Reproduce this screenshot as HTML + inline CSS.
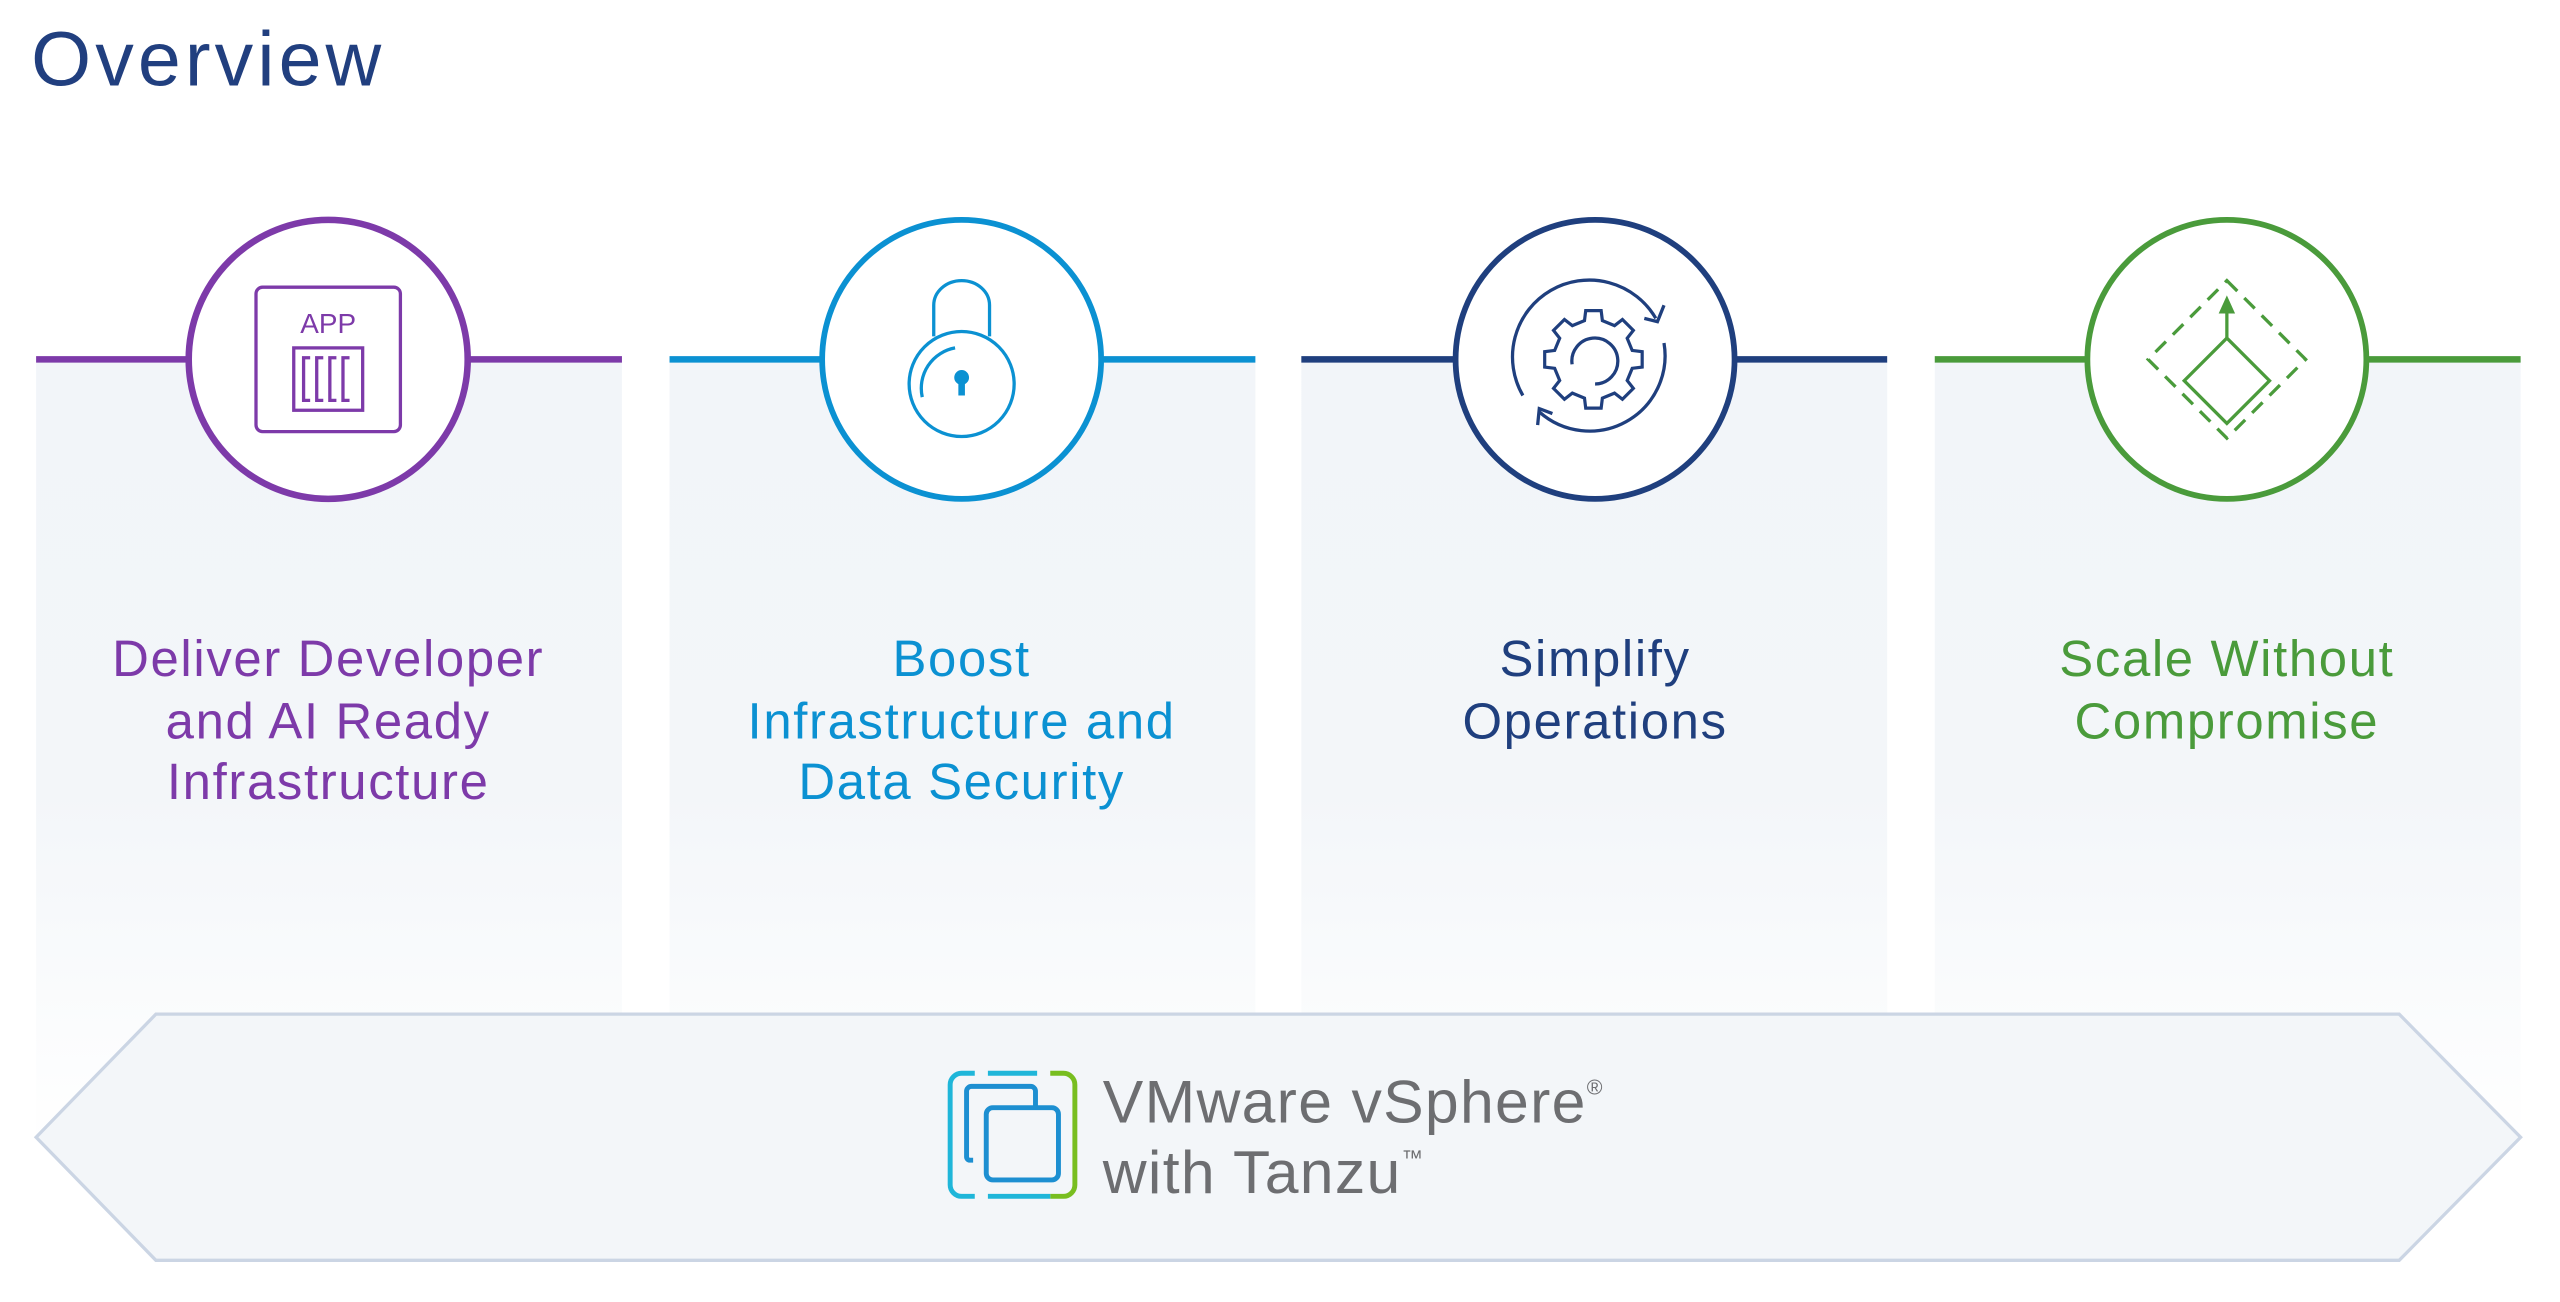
<!DOCTYPE html>
<html><head><meta charset="utf-8"><style>
html,body{margin:0;padding:0;background:#fff;width:2560px;height:1302px;overflow:hidden}
svg{display:block}
text{font-family:"Liberation Sans",sans-serif}
</style></head><body>
<svg width="2560" height="1302" viewBox="0 0 1560 793.4" preserveAspectRatio="none" xmlns="http://www.w3.org/2000/svg">
<defs>
<linearGradient id="pg" x1="0" y1="0" x2="0" y2="1">
<stop offset="0" stop-color="#f2f5f9"/><stop offset="0.55" stop-color="#f3f6f9"/><stop offset="1" stop-color="#ffffff"/>
</linearGradient>
</defs>
<text x="19" y="52" font-size="47" fill="#213f7f" letter-spacing="2.5">Overview</text>

<rect x="22" y="219" width="357" height="480" fill="url(#pg)"/>
<rect x="408" y="219" width="357" height="480" fill="url(#pg)"/>
<rect x="793" y="219" width="357" height="480" fill="url(#pg)"/>
<rect x="1179" y="219" width="357" height="480" fill="url(#pg)"/>

<line x1="22" y1="219" x2="379" y2="219" stroke="#7d3aa9" stroke-width="4"/>
<line x1="408" y1="219" x2="765" y2="219" stroke="#0b91d2" stroke-width="4"/>
<line x1="793" y1="219" x2="1150" y2="219" stroke="#1f3f7e" stroke-width="4"/>
<line x1="1179" y1="219" x2="1536" y2="219" stroke="#4a9b3b" stroke-width="4"/>

<circle cx="200" cy="219" r="85" fill="#fff" stroke="#7d3aa9" stroke-width="4"/>
<circle cx="586" cy="219" r="85" fill="#fff" stroke="#0b91d2" stroke-width="3.5"/>
<circle cx="972" cy="219" r="85" fill="#fff" stroke="#1f3f7e" stroke-width="3.5"/>
<circle cx="1357" cy="219" r="85" fill="#fff" stroke="#4a9b3b" stroke-width="3.5"/>

<g stroke="#7d3aa9" fill="none" stroke-width="2">
<rect x="156" y="175" width="88" height="88" rx="4"/>
<rect x="179" y="212" width="42" height="38"/>
<path d="M189 218h-4v26h4 M197 218h-4v26h4 M205 218h-4v26h4 M213 218h-4v26h4"/>
</g>
<text x="200" y="203" font-size="17" fill="#7d3aa9" text-anchor="middle">APP</text>

<g stroke="#0b91d2" fill="none" stroke-width="2">
<path d="M569 205 V186 a17 15 0 0 1 34 0 V205"/>
<circle cx="586" cy="234" r="32"/>
<path d="M562 242 A25 25 0 0 1 582 212"/>
</g>
<circle cx="586" cy="230" r="4.5" fill="#0b91d2"/>
<rect x="584" y="231" width="4" height="10" fill="#0b91d2"/>

<g transform="translate(971,219)" stroke="#1f3f7e" fill="none" stroke-width="2">
<polygon points="24.36,-5.62 30.62,-4.85 30.62,4.85 24.36,5.62 21.2,13.25 25.08,18.22 18.22,25.08 13.25,21.2 5.62,24.36 4.85,30.62 -4.85,30.62 -5.62,24.36 -13.25,21.2 -18.22,25.08 -25.08,18.22 -21.2,13.25 -24.36,5.62 -30.62,4.85 -30.62,-4.85 -24.36,-5.62 -21.2,-13.25 -25.08,-18.22 -18.22,-25.08 -13.25,-21.2 -5.62,-24.36 -4.85,-30.62 4.85,-30.62 5.62,-24.36 13.25,-21.2 18.22,-25.08 25.08,-18.22 21.2,-13.25" transform="scale(0.97)"/>
<path d="M-13 3 A14 14 0 1 1 1 15"/>
<path d="M-43 22 A46 46 0 0 1 38 -25"/>
<path d="M43 -10 A46 46 0 0 1 -33 32"/>
<path d="M43 -33 L39 -23 L31 -25"/>
<path d="M-34 40 L-33 30 L-25 33"/>
</g>

<g stroke="#4a9b3b" fill="none" stroke-width="2">
<polygon points="1357,171 1405,219 1357,267 1309,219" stroke-dasharray="9,6"/>
<polygon points="1357,206 1383,232 1357,258 1331,232"/>
<line x1="1357" y1="206" x2="1357" y2="188"/>
</g>
<polygon points="1357,180 1362,191 1352,191" fill="#4a9b3b"/>

<g font-size="31" text-anchor="middle" letter-spacing="1">
<text fill="#7d3aa9"><tspan x="200" y="412">Deliver Developer</tspan><tspan x="200" y="450">and AI Ready</tspan><tspan x="200" y="487">Infrastructure</tspan></text>
<text fill="#0b91d2"><tspan x="586" y="412">Boost</tspan><tspan x="586" y="450">Infrastructure and</tspan><tspan x="586" y="487">Data Security</tspan></text>
<text fill="#1f3f7e"><tspan x="972" y="412">Simplify</tspan><tspan x="972" y="450">Operations</tspan></text>
<text fill="#4a9b3b"><tspan x="1357" y="412">Scale Without</tspan><tspan x="1357" y="450">Compromise</tspan></text>
</g>

<polygon points="95,618 1462,618 1536,693 1462,768 95,768 22,693" fill="#f3f6f9" stroke="#cbd5e4" stroke-width="2"/>

<g fill="none" stroke-width="3">
<path d="M594 654 H586 a7 7 0 0 0 -7 7 V722 a7 7 0 0 0 7 7 H594" stroke="#1fb6d9"/>
<path d="M640 654 H648 a7 7 0 0 1 7 7 V722 a7 7 0 0 1 -7 7 H640" stroke="#78be20"/>
<path d="M602 729 H640" stroke="#1fb6d9"/>
<path d="M602 654 H632" stroke="#1fb6d9"/>
<path d="M593 707 H591 a2 2 0 0 1 -2 -2 V665 a3 3 0 0 1 3 -3 H628 a3 3 0 0 1 3 3 V674" stroke="#1d8fd1"/>
<rect x="601" y="675" width="44" height="44" rx="4" stroke="#1d8fd1"/>
</g>
<text x="672" y="684" font-size="37" fill="#6d6e71" letter-spacing="0.8">VMware vSphere<tspan font-size="13" dy="-17">®</tspan></text>
<text x="672" y="727" font-size="37" fill="#6d6e71" letter-spacing="0.8">with Tanzu<tspan font-size="13" dy="-17">™</tspan></text>
</svg>
</body></html>
